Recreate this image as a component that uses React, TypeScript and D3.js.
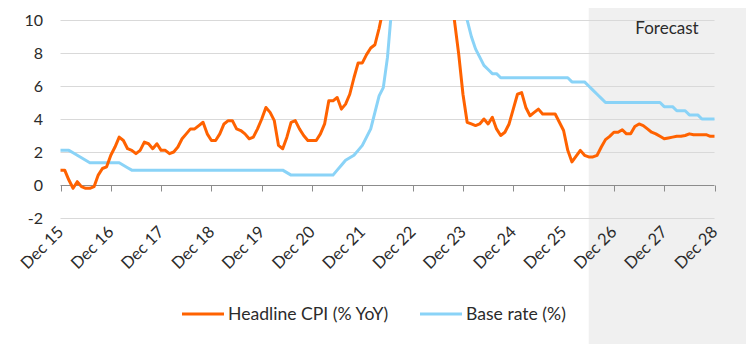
import { useEffect, useRef } from 'react'
import * as d3 from 'd3'

// Monthly series, Dec 2015 .. Dec 2028 (forecast from mid-2026)
const cpi = [
  0.9,
  0.9, 0.3, -0.2, 0.2, -0.1, -0.2, -0.2, -0.1, 0.6, 1.0, 1.1, 1.8,
  2.3, 2.9, 2.7, 2.2, 2.1, 1.9, 2.1, 2.6, 2.5, 2.2, 2.5, 2.1,
  2.1, 1.9, 2.0, 2.3, 2.8, 3.1, 3.4, 3.4, 3.6, 3.8, 3.1, 2.7,
  2.7, 3.1, 3.7, 3.9, 3.9, 3.4, 3.3, 3.1, 2.8, 2.9, 3.4, 4.0,
  4.7, 4.4, 3.9, 2.4, 2.2, 2.9, 3.8, 3.9, 3.4, 3.0, 2.7, 2.7,
  2.7, 3.1, 3.7, 5.1, 5.1, 5.3, 4.6, 4.9, 5.5, 6.5, 7.4, 7.4,
  7.9, 8.3, 8.5, 9.5, 10.7, 11.7, 13.7, 15.6, 20.1, 21.1, 22.5, 24.5,
  25.7, 25.4, 25.2, 24.0, 21.5, 20.1, 17.6, 16.4, 12.2, 9.9, 7.9, 5.5,
  3.8, 3.7, 3.6, 3.7, 4.0, 3.7, 4.1, 3.4, 3.0, 3.2, 3.7, 4.6,
  5.5, 5.6, 4.7, 4.2, 4.4, 4.6, 4.3, 4.3, 4.3, 4.3, 3.8, 3.3,
  2.1, 1.4, 1.75, 2.1, 1.8, 1.7, 1.7, 1.8, 2.3, 2.75, 2.95, 3.2,
  3.2, 3.35, 3.1, 3.1, 3.55, 3.7, 3.6, 3.4, 3.2, 3.1, 2.95, 2.8,
  2.85, 2.9, 2.95, 2.95, 3.0, 3.1, 3.05, 3.05, 3.05, 3.05, 2.95, 2.95,
]

const baseRate = [
  2.1,
  2.1, 2.1, 1.95, 1.8, 1.65, 1.5, 1.35, 1.35, 1.35, 1.35, 1.35, 1.35,
  1.35, 1.35, 1.2, 1.05, 0.9, 0.9, 0.9, 0.9, 0.9, 0.9, 0.9, 0.9,
  0.9, 0.9, 0.9, 0.9, 0.9, 0.9, 0.9, 0.9, 0.9, 0.9, 0.9, 0.9,
  0.9, 0.9, 0.9, 0.9, 0.9, 0.9, 0.9, 0.9, 0.9, 0.9, 0.9, 0.9,
  0.9, 0.9, 0.9, 0.9, 0.9, 0.75, 0.6, 0.6, 0.6, 0.6, 0.6, 0.6,
  0.6, 0.6, 0.6, 0.6, 0.6, 0.9, 1.2, 1.5, 1.65, 1.8, 2.1, 2.4,
  2.9, 3.4, 4.4, 5.4, 5.9, 7.75, 10.75, 11.75, 13, 13, 13, 13,
  13, 13, 13, 13, 13, 13, 13, 13, 13, 12.25, 11.5, 10.75,
  10.0, 9.0, 8.25, 7.75, 7.25, 7.0, 6.75, 6.75, 6.5, 6.5, 6.5, 6.5,
  6.5, 6.5, 6.5, 6.5, 6.5, 6.5, 6.5, 6.5, 6.5, 6.5, 6.5, 6.5,
  6.5, 6.25, 6.25, 6.25, 6.25, 6.0, 5.75, 5.5, 5.25, 5.0, 5.0, 5.0,
  5.0, 5.0, 5.0, 5.0, 5.0, 5.0, 5.0, 5.0, 5.0, 5.0, 5.0, 4.75,
  4.75, 4.75, 4.5, 4.5, 4.5, 4.25, 4.25, 4.25, 4.0, 4.0, 4.0, 4.0,
]

const tickLabels = [
  'Dec 15', 'Dec 16', 'Dec 17', 'Dec 18', 'Dec 19', 'Dec 20', 'Dec 21',
  'Dec 22', 'Dec 23', 'Dec 24', 'Dec 25', 'Dec 26', 'Dec 27', 'Dec 28',
]
const yTicks = [-2, 0, 2, 4, 6, 8, 10]
const forecastStart = 126

const series = [
  { name: 'Base rate (%)', values: baseRate, color: '#8ad3f7' },
  { name: 'Headline CPI (% YoY)', values: cpi, color: '#ff6200' },
]

const font = 'Lato, "Noto Sans", sans-serif'
const textColor = '#2b2b2b'

export default function App() {
  const ref = useRef<SVGSVGElement | null>(null)
  useEffect(() => {
    if (!ref.current) return
    const svg = d3.select(ref.current)
    svg.selectAll('*').remove()
    const width = 746
    const height = 344
    const n = cpi.length

    const x = d3.scaleLinear().domain([0, n - 1]).range([60.5, 714.5])
    const y = d3.scaleLinear().domain([-2, 10]).range([218, 20])

    // shaded forecast period
    svg
      .append('rect')
      .attr('x', x(forecastStart))
      .attr('y', 8)
      .attr('width', width - x(forecastStart))
      .attr('height', height - 8)
      .attr('fill', '#f0f0f0')

    svg
      .append('text')
      .attr('x', 667)
      .attr('y', 34)
      .attr('text-anchor', 'middle')
      .attr('font-family', font)
      .attr('font-size', 17)
      .attr('fill', textColor)
      .text('Forecast')

    // gridlines
    svg
      .append('g')
      .selectAll('line')
      .data(yTicks.filter((d) => d !== 0))
      .join('line')
      .attr('x1', x(0))
      .attr('x2', x(n - 1))
      .attr('y1', (d) => Math.round(y(d)) + 0.5)
      .attr('y2', (d) => Math.round(y(d)) + 0.5)
      .attr('stroke', '#d9d9d9')
      .attr('stroke-width', 1)

    // y labels
    svg
      .append('g')
      .selectAll('text')
      .data(yTicks)
      .join('text')
      .attr('x', 43)
      .attr('y', (d) => y(d))
      .attr('dy', '0.35em')
      .attr('text-anchor', 'end')
      .attr('font-family', font)
      .attr('font-size', 16)
      .attr('fill', textColor)
      .text((d) => d)

    // zero axis with yearly ticks
    const axisY = Math.round(y(0)) + 0.5
    svg
      .append('line')
      .attr('x1', x(0))
      .attr('x2', x(n - 1))
      .attr('y1', axisY)
      .attr('y2', axisY)
      .attr('stroke', '#8c8c8c')
      .attr('stroke-width', 1)
    svg
      .append('g')
      .selectAll('line')
      .data(tickLabels)
      .join('line')
      .attr('x1', (_, i) => Math.round(x(i * 12)) + 0.5)
      .attr('x2', (_, i) => Math.round(x(i * 12)) + 0.5)
      .attr('y1', axisY)
      .attr('y2', axisY + 6)
      .attr('stroke', '#8c8c8c')
      .attr('stroke-width', 1)

    svg
      .append('g')
      .selectAll('text')
      .data(tickLabels)
      .join('text')
      .attr('transform', (_, i) => `translate(${x(i * 12) + 4},${233}) rotate(-45)`)
      .attr('text-anchor', 'end')
      .attr('font-family', font)
      .attr('font-size', 16.5)
      .attr('fill', textColor)
      .text((d) => d)

    // lines, clipped at the top of the value axis
    svg
      .append('clipPath')
      .attr('id', 'plot-clip')
      .append('rect')
      .attr('x', 0)
      .attr('y', y(10))
      .attr('width', width)
      .attr('height', height)

    const line = d3
      .line<number>()
      .x((_, i) => x(i))
      .y((d) => y(d))

    svg
      .append('g')
      .attr('clip-path', 'url(#plot-clip)')
      .selectAll('path')
      .data(series)
      .join('path')
      .attr('d', (s) => line(s.values))
      .attr('fill', 'none')
      .attr('stroke', (s) => s.color)
      .attr('stroke-width', 3)
      .attr('stroke-linejoin', 'round')

    // legend
    const legend = [
      { name: 'Headline CPI (% YoY)', color: '#ff6200', x: 182 },
      { name: 'Base rate (%)', color: '#8ad3f7', x: 420 },
    ]
    const items = svg
      .append('g')
      .selectAll('g')
      .data(legend)
      .join('g')
      .attr('transform', (d) => `translate(${d.x},314)`)
    items
      .append('line')
      .attr('x1', 0)
      .attr('x2', 42)
      .attr('stroke', (d) => d.color)
      .attr('stroke-width', 3)
    items
      .append('text')
      .attr('x', 46)
      .attr('y', 6)
      .attr('font-family', font)
      .attr('font-size', 17.6)
      .attr('fill', textColor)
      .text((d) => d.name)
  }, [])
  return (
    <svg
      ref={ref}
      width={746}
      height={344}
      style={{ position: 'absolute', left: 0, top: 0, background: '#fff' }}
    />
  )
}
